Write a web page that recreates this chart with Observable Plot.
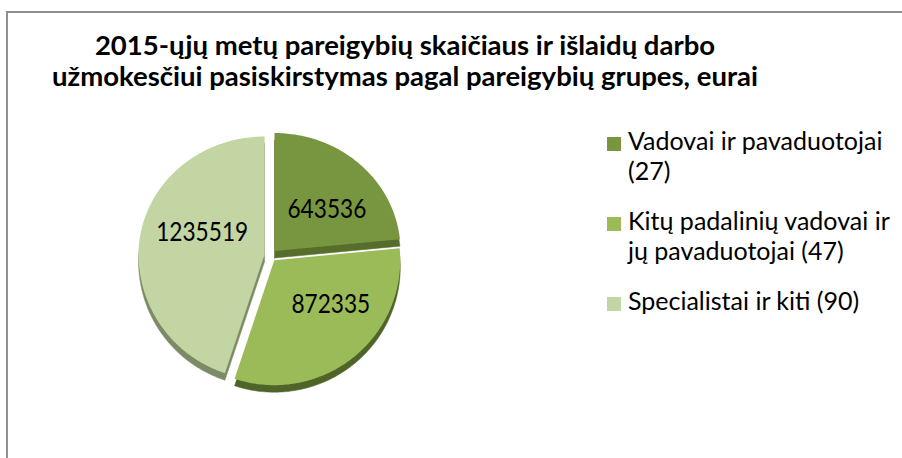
<!DOCTYPE html>
<html><head><meta charset="utf-8">
<script src="https://cdn.jsdelivr.net/npm/d3@7"></script>
<script src="https://cdn.jsdelivr.net/npm/@observablehq/plot@0.6"></script>
<style>
html,body{margin:0;padding:0;background:#fff;}
body{width:902px;height:458px;overflow:hidden;position:relative;font-family:Lato,"Noto Sans",sans-serif;color:#000;}
#frame{position:absolute;left:6px;top:11px;width:1000px;height:600px;border:2px solid #8f8f8f;box-sizing:border-box;}
#title{position:absolute;left:0;top:29px;width:810px;text-align:center;font-weight:bold;font-size:27.5px;line-height:31px;white-space:nowrap;}
#chart{position:absolute;left:130px;top:120px;}
#legend{position:absolute;left:607px;top:125px;font-size:25px;line-height:30px;}
.item{position:relative;padding-left:21px;margin-bottom:20px;white-space:nowrap;}
.sw{position:absolute;left:0;top:12px;width:14px;height:14px;}
</style></head>
<body>
<div id="frame"></div>
<div id="title">2015-ųjų metų pareigybių skaičiaus ir išlaidų darbo<br>užmokesčiui pasiskirstymas pagal pareigybių grupes, eurai</div>
<div id="chart"></div>
<div id="legend"></div>
<script>
const categories = ["Vadovai ir pavaduotojai (27)", "Kitų padalinių vadovai ir jų pavaduotojai (47)", "Specialistai ir kiti (90)"];
const legendLines = [["Vadovai ir pavaduotojai", "(27)"], ["Kitų padalinių vadovai ir", "jų pavaduotojai (47)"], ["Specialistai ir kiti (90)"]];
const values = [643536, 872335, 1235519];
const valueLabels = ["643536", "872335", "1235519"];
const topColors = ["#789640", "#9bbb59", "#c3d5a3"];
const sideColors = ["#566d2c", "#4f6428", "#7d8a66"];

// geometry (pixel units of the x/y scales); the front half looks deeper in 3D
const RX = 126, RY_BACK = 118, RY_FRONT = 125, EXPLODE = 6, DEPTH = 7, STEP = Math.PI / 180;
const ry = t => (Math.cos(t) >= 0 ? RY_BACK : RY_FRONT);

const arcs = d3.pie().sort(null).value(d => d)(values);
const sides = [], tops = [], labels = [];
arcs.forEach((a, i) => {
  const mid = (a.startAngle + a.endAngle) / 2;
  const ox = EXPLODE * Math.sin(mid), oy = EXPLODE * Math.cos(mid);
  const pts = [[ox, oy]];
  const n = Math.max(2, Math.ceil((a.endAngle - a.startAngle) / STEP));
  for (let k = 0; k <= n; k++) {
    const t = a.startAngle + (a.endAngle - a.startAngle) * k / n;
    pts.push([ox + RX * Math.sin(t), oy + ry(t) * Math.cos(t)]);
  }
  pts.push([ox, oy]);
  pts.forEach(([x, y]) => {
    tops.push({key: categories[i], x, y, fill: topColors[i]});
    sides.push({key: categories[i], x, y: y - DEPTH, fill: sideColors[i]});
  });
  // labels: horizontal and vertical placement factors differ (3D foreshortening)
  const s = Math.sin(mid), c = Math.cos(mid);
  const kx = 0.62 + 0.2 * Math.max(0, -c) * s - 0.12 * Math.max(0, -s);
  const ky = 0.48 + 0.7 * Math.max(0, -s);
  labels.push({x: ox + kx * RX * s, y: oy + ky * RY_BACK * c, text: valueLabels[i]});
});

const chart = Plot.plot({
  width: 300, height: 290, margin: 0,
  x: {domain: [-140, 160], axis: null},
  y: {domain: [-155, 135], axis: null},
  style: {background: "transparent", overflow: "visible"},
  marks: [
    Plot.line(sides, {x: "x", y: "y", z: "key", fill: "fill", stroke: "fill", strokeWidth: 0.5}),
    Plot.line(tops, {x: "x", y: "y", z: "key", fill: "fill", stroke: "none"}),
    Plot.text(labels, {x: "x", y: "y", text: "text", fontSize: 27, fill: "#000", fontFamily: "Lato"})
  ]
});
document.getElementById("chart").appendChild(chart);
// narrow the value labels horizontally around their own centre, as in the reference
chart.querySelectorAll('g[aria-label="text"] text').forEach(t => {
  const b = t.getBBox();
  const cx = b.x + b.width / 2;
  const tr = t.getAttribute("transform") || "";
  t.setAttribute("transform", `${tr} translate(${cx},0) scale(0.84,1) translate(${-cx},0)`);
});

const legend = document.getElementById("legend");
legendLines.forEach((lines, i) => {
  const div = document.createElement("div");
  div.className = "item";
  div.innerHTML = `<span class="sw" style="background:${topColors[i]}"></span>` + lines.join("<br>");
  legend.appendChild(div);
});
</script>
</body></html>
